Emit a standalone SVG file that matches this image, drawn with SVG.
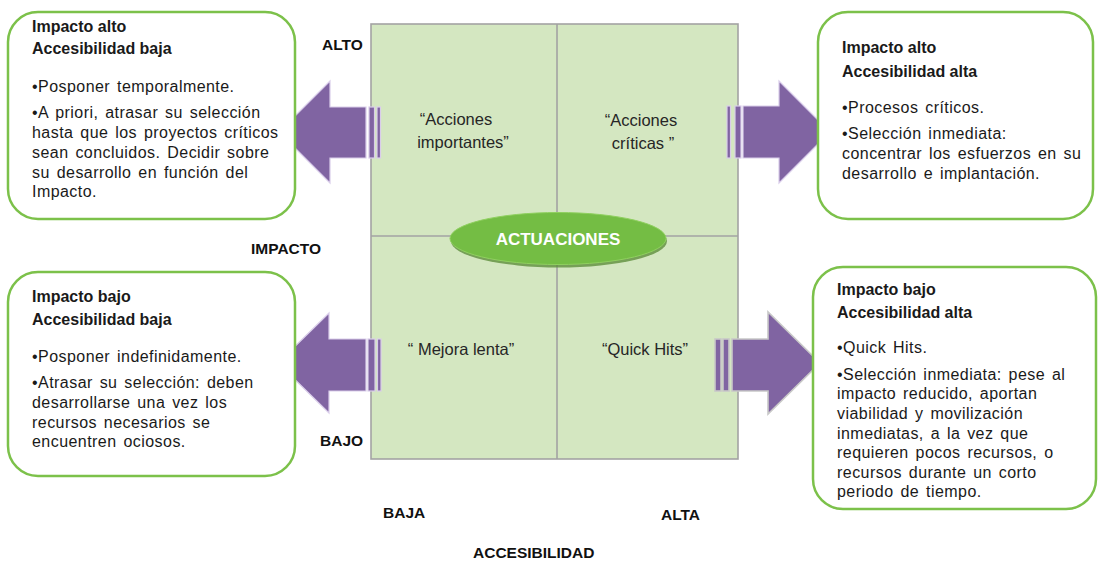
<svg xmlns="http://www.w3.org/2000/svg" width="1099" height="569" viewBox="0 0 1099 569">
  <style>
    .box { fill: #ffffff; stroke: #7cc14a; stroke-width: 2.5; }
    .title { font-family: "Liberation Sans", Arial, sans-serif; font-weight: bold; font-size: 16px; fill: #1a1a1a; }
    .body { font-family: "Liberation Sans", Arial, sans-serif; font-size: 16px; fill: #1a1a1a; word-spacing: 2px; letter-spacing: 0.45px; }
    .axis { font-family: "Liberation Sans", Arial, sans-serif; font-weight: bold; font-size: 15.5px; fill: #111111; }
    .quad { font-family: "Liberation Sans", Arial, sans-serif; font-size: 16.5px; fill: #262626; text-anchor: middle; }
    .cell { fill: #d4e7c1; stroke: #a3a3a3; stroke-width: 1.6; }
    .arrow { fill: #8064a2; stroke: #d9cdea; stroke-width: 1.2; }
    .arrow-gray { fill: #8064a2; stroke: #c8c8c8; stroke-width: 1.6; }
  </style>

  <!-- matrix -->
  <g id="matrix">
    <rect class="cell" x="371" y="24" width="367" height="435"/>
    <line x1="557" y1="24" x2="557" y2="459" stroke="#a3a3a3" stroke-width="1.6"/>
    <line x1="371" y1="236" x2="738" y2="236" stroke="#a3a3a3" stroke-width="1.6"/>
    <text class="quad" x="456" y="125">“Acciones</text>
    <text class="quad" x="463" y="148">importantes”</text>
    <text class="quad" x="641" y="126">“Acciones</text>
    <text class="quad" x="643" y="149">críticas ”</text>
    <text class="quad" x="461" y="355">“ Mejora lenta”</text>
    <text class="quad" x="645" y="355">“Quick Hits”</text>
  </g>

  <!-- axis labels -->
  <g id="axes">
    <text class="axis" x="322" y="50">ALTO</text>
    <text class="axis" x="251" y="254">IMPACTO</text>
    <text class="axis" x="320" y="446">BAJO</text>
    <text class="axis" x="383" y="518">BAJA</text>
    <text class="axis" x="661" y="520">ALTA</text>
    <text class="axis" x="473" y="558">ACCESIBILIDAD</text>
  </g>

  <!-- block arrows -->
  <g id="connectors">
    <g id="arrow-tl">
      <polygon class="arrow" points="366,107 330,107 330,81 279,132 330,183 330,158 366,158"/>
      <rect class="arrow" x="369" y="107" width="5.5" height="51"/>
      <rect class="arrow" x="377" y="107" width="3.5" height="51"/>
    </g>
    <g id="arrow-tr">
      <polygon class="arrow" points="743,106 779,106 779,81 830,132 779,183 779,158 743,158"/>
      <rect class="arrow" x="735" y="106" width="6" height="52"/>
      <rect class="arrow" x="727" y="106" width="3.5" height="52"/>
    </g>
    <g id="arrow-bl">
      <polygon class="arrow" points="366,339 329,339 329,313 278,363 329,413 329,391 366,391"/>
      <rect class="arrow" x="368" y="339" width="7" height="52"/>
      <rect class="arrow" x="377.5" y="339" width="3.5" height="52"/>
    </g>
    <g id="arrow-br">
      <polygon class="arrow-gray" points="732,339 768,339 768,312 820,363 768,414 768,391 732,391"/>
      <rect class="arrow-gray" x="715" y="339" width="6" height="52"/>
      <rect class="arrow-gray" x="723" y="339" width="6" height="52"/>
    </g>
  </g>

  <!-- central ellipse -->
  <g id="actuaciones">
    <ellipse cx="559" cy="241" rx="108" ry="26.5" fill="#5e8f3c" opacity="0.8"/>
    <ellipse cx="558" cy="238.5" rx="108" ry="26" fill="#74bd44" stroke="#8fd05f" stroke-width="1"/>
    <text x="558" y="245" font-family="'Liberation Sans', Arial, sans-serif" font-weight="bold" font-size="17px" fill="#ffffff" text-anchor="middle">ACTUACIONES</text>
  </g>

  <!-- top-left -->
  <g id="box-tl">
    <rect class="box" x="8" y="12" width="287" height="207" rx="30"/>
    <text class="title" x="32" y="32">Impacto alto</text>
    <text class="title" x="32" y="54">Accesibilidad baja</text>
    <text class="body" x="32" y="92">•Posponer temporalmente.</text>
    <text class="body" x="32" y="118">•A priori, atrasar su selección</text>
    <text class="body" x="32" y="138">hasta que los proyectos críticos</text>
    <text class="body" x="32" y="158">sean concluidos. Decidir sobre</text>
    <text class="body" x="32" y="178">su desarrollo en función del</text>
    <text class="body" x="32" y="197">Impacto.</text>
  </g>

  <!-- top-right -->
  <g id="box-tr">
    <rect class="box" x="818" y="12" width="275" height="207" rx="30"/>
    <text class="title" x="842" y="53">Impacto alto</text>
    <text class="title" x="842" y="77">Accesibilidad alta</text>
    <text class="body" x="842" y="113">•Procesos críticos.</text>
    <text class="body" x="842" y="139">•Selección inmediata:</text>
    <text class="body" x="842" y="159">concentrar los esfuerzos en su</text>
    <text class="body" x="842" y="179">desarrollo e implantación.</text>
  </g>

  <!-- bottom-left -->
  <g id="box-bl">
    <rect class="box" x="8" y="272" width="287" height="204" rx="30"/>
    <text class="title" x="32" y="302">Impacto bajo</text>
    <text class="title" x="32" y="325">Accesibilidad baja</text>
    <text class="body" x="32" y="362">•Posponer indefinidamente.</text>
    <text class="body" x="32" y="388">•Atrasar su selección: deben</text>
    <text class="body" x="32" y="408">desarrollarse una vez los</text>
    <text class="body" x="32" y="428">recursos necesarios se</text>
    <text class="body" x="32" y="447">encuentren ociosos.</text>
  </g>

  <!-- bottom-right -->
  <g id="box-br">
    <rect class="box" x="813" y="267" width="283" height="242" rx="30"/>
    <text class="title" x="837" y="295">Impacto bajo</text>
    <text class="title" x="837" y="318">Accesibilidad alta</text>
    <text class="body" x="837" y="353">•Quick Hits.</text>
    <text class="body" x="837" y="380">•Selección inmediata: pese al</text>
    <text class="body" x="837" y="399">impacto reducido, aportan</text>
    <text class="body" x="837" y="419">viabilidad y movilización</text>
    <text class="body" x="837" y="439">inmediatas, a la vez que</text>
    <text class="body" x="837" y="458">requieren pocos recursos, o</text>
    <text class="body" x="837" y="478">recursos durante un corto</text>
    <text class="body" x="837" y="497">periodo de tiempo.</text>
  </g>
</svg>
